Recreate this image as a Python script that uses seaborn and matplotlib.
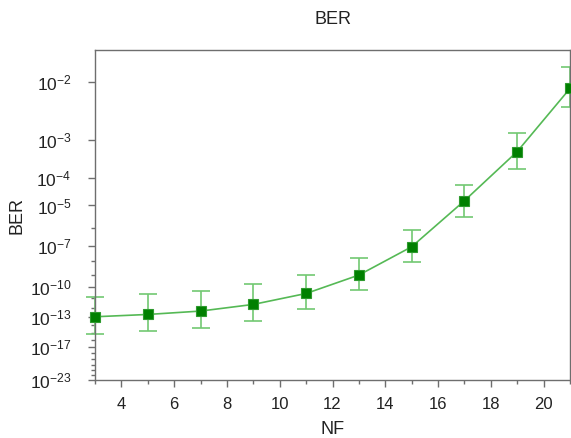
import numpy as np
import pandas as pd
import matplotlib
matplotlib.use("Agg")
import matplotlib.pyplot as plt
import seaborn as sns
from matplotlib.ticker import FixedLocator, FixedFormatter

# ---- data ----
nf = [3, 5, 7, 9, 11, 13, 15, 17, 19, 21]
ber = [9.8e-14, 1.8e-13, 4.3e-13, 2.2e-12, 2.6e-11, 9.8e-10, 8.7e-8, 1.55e-5, 5.4e-4, 8.1e-3]
ber_low = [6.5e-16, 1.6e-15, 4.5e-15, 3.2e-14, 7.1e-13, 5.2e-11, 9.3e-9, 3.2e-6, 1.8e-4, 4.3e-3]
ber_high = [1.3e-11, 2.1e-11, 4.3e-11, 1.7e-10, 9.8e-10, 1.6e-8, 7.4e-7, 5.8e-5, 1.4e-3, 1.5e-2]
ytick_exp = [-2, -3, -4, -5, -7, -10, -13, -17, -23]
xticks = [4, 6, 8, 10, 12, 14, 16, 18, 20]

sns.set_theme(style="white")
plt.rcParams["font.family"] = ["Liberation Sans", "DejaVu Sans"]
plt.rcParams["mathtext.fontset"] = "custom"
plt.rcParams["mathtext.rm"] = "Liberation Sans"
plt.rcParams["mathtext.it"] = "Liberation Sans:italic"
plt.rcParams["mathtext.bf"] = "Liberation Sans:bold"

OFF = 0.63
def fwd(v):
    v = np.asarray(v, dtype=float)
    with np.errstate(all="ignore"):
        return -np.log10(-np.log10(v) - OFF)
def inv(t):
    t = np.asarray(t, dtype=float)
    return 10.0 ** (-(10.0 ** (-t) + OFF))

fig = plt.figure(figsize=(5.71, 4.38), dpi=100)
ax = fig.add_axes([95 / 571, 58 / 438, 475 / 571, 330 / 438])
ax.set_yscale("function", functions=(fwd, inv))

df = pd.DataFrame({"NF": nf, "BER": ber})
line_c = "#55b955"
mark_c = "#008000"
err_c = "#72c872"

ber_a = np.array(ber)
yerr = [ber_a - np.array(ber_low), np.array(ber_high) - ber_a]
ax.errorbar(nf, ber, yerr=yerr, fmt="none", ecolor=err_c, elinewidth=1.2,
            capsize=6.5, capthick=1.2, zorder=2, clip_on=False)
sns.lineplot(data=df, x="NF", y="BER", ax=ax, color=line_c, linewidth=1.2,
             marker="s", markersize=7.5, markerfacecolor=mark_c,
             markeredgecolor="#2e9a2e", markeredgewidth=0.8, zorder=3,
             clip_on=False)

ax.set_xlim(3, 21)
ax.set_ylim(1e-23, 10 ** -1.65)

ax.xaxis.set_major_locator(FixedLocator(xticks))
ax.xaxis.set_minor_locator(FixedLocator(list(range(3, 22))))
ax.yaxis.set_major_locator(FixedLocator([10.0 ** e for e in ytick_exp]))
ax.yaxis.set_major_formatter(FixedFormatter([r"$\mathregular{10^{%d}}$" % e for e in ytick_exp]))
minor_exp = [e for e in range(-22, -5) if e not in ytick_exp]
ax.yaxis.set_minor_locator(FixedLocator([10.0 ** e for e in minor_exp]))
ax.yaxis.set_minor_formatter(FixedFormatter([""] * len(minor_exp)))

spine_c = "#6e6e6e"
for s in ax.spines.values():
    s.set_color(spine_c)
    s.set_linewidth(1.0)
ax.tick_params(which="major", direction="out", length=5, width=1, color=spine_c,
               labelsize=12, labelcolor="#222222", left=True, bottom=True)
ax.tick_params(which="minor", direction="out", length=3, width=1, color=spine_c,
               left=True, bottom=True)
ax.tick_params(axis="x", which="major", pad=7)
ax.tick_params(axis="y", which="major", pad=12, labelsize=12.5)

ax.set_xlabel("NF", fontsize=13, color="#222222", labelpad=7)
ax.set_ylabel("BER", fontsize=13, color="#222222", labelpad=3)
ax.set_title("BER", fontsize=13, color="#222222", pad=19)
ax.grid(False)

fig.savefig("out.png", dpi=100, facecolor="white")
